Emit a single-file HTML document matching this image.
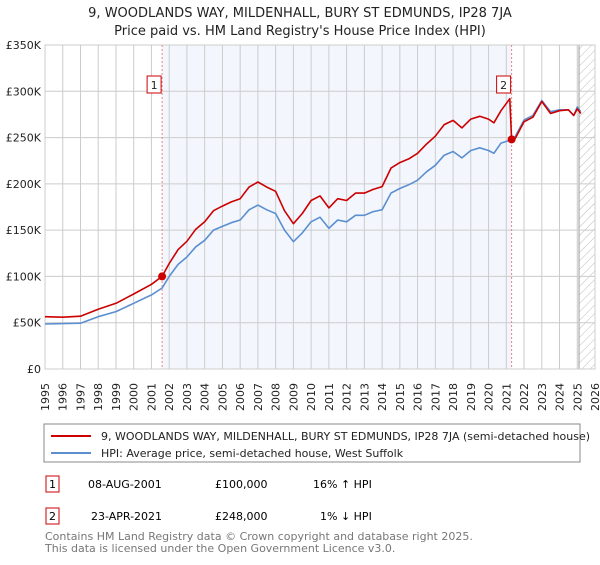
<!DOCTYPE html>
<html><head><meta charset="utf-8"><style>
body{margin:0;background:#fff;font-family:"Liberation Sans","DejaVu Sans",sans-serif;}
svg text{font-family:"DejaVu Sans","Liberation Sans",sans-serif;}
</style></head><body>
<svg id="chart" width="600" height="560" viewBox="0 0 600 560" xmlns="http://www.w3.org/2000/svg">
<defs>
<pattern id="hatch" width="6" height="6" patternUnits="userSpaceOnUse" patternTransform="rotate(45)"><line x1="0" y1="0" x2="0" y2="6" stroke="#bbb" stroke-width="1"/></pattern>
</defs>
<text x="300" y="17" text-anchor="middle" font-size="13" fill="#222">9, WOODLANDS WAY, MILDENHALL, BURY ST EDMUNDS, IP28 7JA</text>
<text x="300" y="35" text-anchor="middle" font-size="13" fill="#222">Price paid vs. HM Land Registry's House Price Index (HPI)</text>
<g id="plot"></g>
<rect x="44" y="424" width="536" height="38" fill="#fff" stroke="#888"/>
<line x1="51" y1="436" x2="91" y2="436" stroke="#cc0000" stroke-width="2"/>
<text x="101" y="440" font-size="11" fill="#222">9, WOODLANDS WAY, MILDENHALL, BURY ST EDMUNDS, IP28 7JA (semi-detached house)</text>
<line x1="51" y1="453" x2="91" y2="453" stroke="#5b8fd0" stroke-width="2"/>
<text x="101" y="457" font-size="11" fill="#222">HPI: Average price, semi-detached house, West Suffolk</text>
<rect x="46" y="476" width="13" height="16" fill="#fff" stroke="#cc0000"/>
<text x="52.5" y="488" text-anchor="middle" font-size="11">1</text>
<text x="88" y="488" font-size="11">08-AUG-2001</text>
<text x="215" y="488" font-size="11">£100,000</text>
<text x="313" y="488" font-size="11">16% ↑ HPI</text>
<rect x="46" y="508" width="13" height="16" fill="#fff" stroke="#cc0000"/>
<text x="52.5" y="520" text-anchor="middle" font-size="11">2</text>
<text x="91" y="520" font-size="11">23-APR-2021</text>
<text x="215" y="520" font-size="11">£248,000</text>
<text x="320" y="520" font-size="11">1% ↓ HPI</text>
<text x="45" y="540" font-size="11" fill="#777">Contains HM Land Registry data © Crown copyright and database right 2025.</text>
<text x="45" y="552" font-size="11" fill="#777">This data is licensed under the Open Government Licence v3.0.</text>
</svg>
<script>
const dates=[1995,1996,1997,1998,1999,2000,2001,2001.6,2002,2002.5,2003,2003.5,2004,2004.5,2005,2005.5,2006,2006.5,2007,2007.5,2008,2008.5,2009,2009.5,2010,2010.5,2011,2011.5,2012,2012.5,2013,2013.5,2014,2014.5,2015,2015.5,2016,2016.5,2017,2017.5,2018,2018.5,2019,2019.5,2020,2020.3,2020.7,2021.2,2021.3,2021.5,2022,2022.5,2023,2023.5,2024,2024.5,2024.8,2025,2025.2];
const hpiValues=[48.6,49,49.5,56.5,62,71,80,87.5,100,113,121,132,139,150,154,158,161,172,177,172,168,150,137.5,147,159,164,152,161,159,166,166,170,172,190,195,199,204,213,220,231,235,228,236,239,236,233,244,247,248,251,269,274,290,278,280,280,274,283,278];
const propertyValues=[56.5,56,57,64.5,71,81,91.5,100,114,129,138,151,159,171,176,180.5,184,196.5,202,196.5,192,171,157,168,182,187,174,184,182,190,190,194,197,217,223,227,233,243,251.5,264,268.5,260.5,270,273,270,266,279,292,248,249,267,272,289,276,279,280,274,281,276];
const saleDates=[2001.6,2021.3];
const saleValues=[100,248];
const saleLabels=["1","2"];
const yTicks=[0,50,100,150,200,250,300,350];
const yTickLabels=["£0","£50K","£100K","£150K","£200K","£250K","£300K","£350K"];
const xTicks=[1995,1996,1997,1998,1999,2000,2001,2002,2003,2004,2005,2006,2007,2008,2009,2010,2011,2012,2013,2014,2015,2016,2017,2018,2019,2020,2021,2022,2023,2024,2025,2026];

const X0=45,X1=595,Y0=369,Y1=45;
const xs=d=>X0+(d-1995)/(2026-1995)*(X1-X0);
const ys=v=>Y0-v/350*(Y0-Y1);
const NS="http://www.w3.org/2000/svg";
const g=document.getElementById('plot');
function mk(t,a){const e=document.createElementNS(NS,t);for(const k in a)e.setAttribute(k,a[k]);g.appendChild(e);return e;}

let e=mk('rect',{x:X0,y:Y1,width:X1-X0,height:Y0-Y1,fill:'#fff'});


e=mk('rect',{x:xs(saleDates[0]),y:Y1,width:xs(saleDates[1])-xs(saleDates[0]),height:Y0-Y1,fill:'#eef3fc',opacity:0.7});


e=mk('rect',{x:xs(2025.1),y:Y1,width:X1-xs(2025.1),height:Y0-Y1,fill:'url(#hatch)'});


e=mk('line',{x1:xs(2025.1),y1:Y1,x2:xs(2025.1),y2:Y0,stroke:'#999','stroke-width':1});


xTicks.forEach((t,i)=>{
  const l=mk('line',{x1:xs(t),y1:Y1,x2:xs(t),y2:Y0,stroke:'#ccc','stroke-width':1});
  
  
  const tx=mk('text',{transform:'translate('+(xs(t)+4)+',383) rotate(-90)','text-anchor':'end','font-size':11,fill:'#222'});
  tx.textContent=t;
  
  
});
yTicks.forEach((t,i)=>{
  const l=mk('line',{x1:X0,y1:ys(t),x2:X1,y2:ys(t),stroke:'#ccc','stroke-width':1});
  
  
  const tx=mk('text',{x:41,y:ys(t)+4,'text-anchor':'end','font-size':11,fill:'#222'});
  tx.textContent=yTickLabels[i];
  
  
});
e=mk('rect',{x:X0,y:Y1,width:X1-X0,height:Y0-Y1,fill:'none',stroke:'#ccc'});


saleDates.forEach((d,i)=>{
  const l=mk('line',{x1:xs(d),y1:Y1,x2:xs(d),y2:Y0,stroke:'#f08080','stroke-width':1,'stroke-dasharray':'2,2'});
  
  
});
const pts=arr=>arr.map((v,i)=>xs(dates[i]).toFixed(1)+','+ys(v).toFixed(1)).join(' ');
e=mk('polyline',{points:pts(hpiValues),fill:'none',stroke:'#5b8fd0','stroke-width':1.6,'stroke-linejoin':'round'});


e=mk('polyline',{points:pts(propertyValues),fill:'none',stroke:'#cc0000','stroke-width':1.6,'stroke-linejoin':'round'});


saleDates.forEach((d,i)=>{
  const c=mk('circle',{cx:xs(d),cy:ys(saleValues[i]),r:4,fill:'#cc0000'});
  
  
  const r=mk('rect',{x:xs(d)-15,y:76,width:14,height:17,fill:'#fff',stroke:'#cc0000'});
  
  
  const t=mk('text',{x:xs(d)-8,y:89,'text-anchor':'middle','font-size':11,fill:'#222'});
  t.textContent=saleLabels[i];
  
  
});
</script>
</body></html>
